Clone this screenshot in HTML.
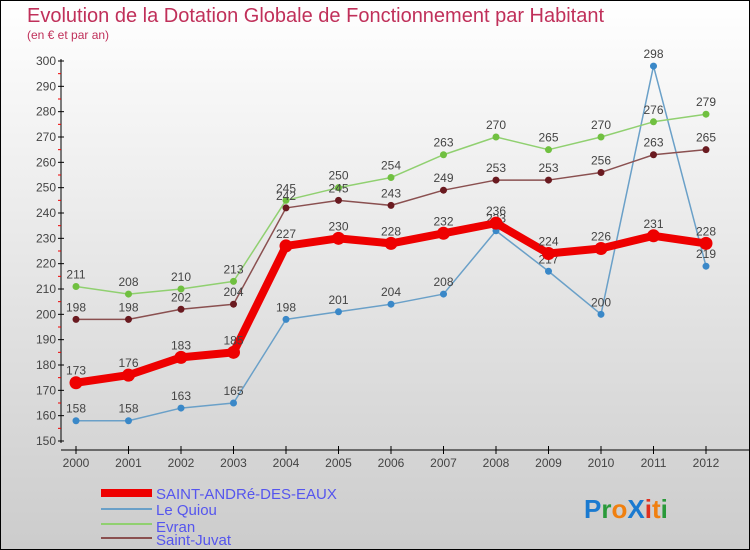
<!DOCTYPE html>
<html><head><meta charset="utf-8"><style>
body{margin:0}
#c{width:748px;height:548px;border:1px solid #000;background:linear-gradient(#ffffff,#cccccc);position:relative;font-family:"Liberation Sans",sans-serif;overflow:hidden}
</style></head><body>
<div id="c">
<svg id="s" width="748" height="548" style="position:absolute;left:0;top:0">
<text x="26" y="21" font-size="20" fill="#c0305a">Evolution de la Dotation Globale de Fonctionnement par Habitant</text>
<text x="26" y="38" font-size="12" fill="#c0305a">(en € et par an)</text>
<line x1="60" y1="58" x2="60" y2="442" stroke="#000"/>
<line x1="60" y1="449" x2="748" y2="449" stroke="#000"/>
<g id="axes"></g><g id="series"></g>
<g>
<rect x="100" y="488" width="51" height="8" fill="#e00"/>
<text x="155" y="498" font-size="15" fill="#5555ee">SAINT-ANDRé-DES-EAUX</text>
<line x1="100" y1="508" x2="151" y2="508" stroke="#6aa0c8" stroke-width="2"/>
<text x="155" y="514" font-size="15" fill="#5555ee">Le Quiou</text>
<line x1="100" y1="523" x2="151" y2="523" stroke="#90d070" stroke-width="2"/>
<text x="155" y="531" font-size="15" fill="#5555ee">Evran</text>
<line x1="100" y1="537" x2="151" y2="537" stroke="#8a5050" stroke-width="2"/>
<text x="155" y="544" font-size="15" fill="#5555ee">Saint-Juvat</text>
</g>
<g font-size="26" font-weight="bold">
<text x="583" y="517"><tspan fill="#1a7ad0">P</tspan><tspan fill="#2a9a3a">r</tspan><tspan fill="#f08010">o</tspan><tspan fill="#1a7ad0">X</tspan><tspan fill="#e03020">i</tspan><tspan fill="#f08010">t</tspan><tspan fill="#2a9a3a">i</tspan></text>
</g>
</svg>
</div>
<script>
const years=["2000","2001","2002","2003","2004","2005","2006","2007","2008","2009","2010","2011","2012"];
const yTicks=[150,160,170,180,190,200,210,220,230,240,250,260,270,280,290,300];
const saintAndre=[173,176,183,185,227,230,228,232,236,224,226,231,228];
const leQuiou=[158,158,163,165,198,201,204,208,233,217,200,298,219];
const evran=[211,208,210,213,245,250,254,263,270,265,270,276,279];
const saintJuvat=[198,198,202,204,242,245,243,249,253,253,256,263,265];
const NS="http://www.w3.org/2000/svg";
function X(i){return 75+i*52.5;}
function Y(v){return 440-(v-150)*380/150;}
function mk(t,a,p){const e=document.createElementNS(NS,t);for(const k in a)e.setAttribute(k,a[k]);p.appendChild(e);return e;}
const ax=document.getElementById('axes');
yTicks.forEach(v=>{
 const l=mk('line',{x1:57,x2:63,y1:Y(v),y2:Y(v),stroke:'#000'},ax);
 
 
 const t=mk('text',{x:55,y:Y(v)+4,'font-size':12,fill:'#444','text-anchor':'end'},ax);
 
 
 t.textContent=v;
 if(v<300){const m=mk('line',{x1:57,x2:60,y1:Y(v+5),y2:Y(v+5),stroke:'#e00'},ax);
 
 }
});
years.forEach((y,i)=>{
 const l=mk('line',{x1:X(i),x2:X(i),y1:445,y2:453,stroke:'#000'},ax);
 
 
 const t=mk('text',{x:X(i),y:466,'font-size':12,fill:'#444','text-anchor':'middle'},ax);
 
 
 t.textContent=y;
});
const sg=document.getElementById('series');
function draw(data,name,color,dot,w,r){
 const g=mk('g',{},sg);
 
 
 const p=mk('polyline',{points:data.map((v,i)=>X(i)+','+Y(v)).join(' '),fill:'none',stroke:color,'stroke-width':w,'stroke-linejoin':'round'},g);
 
 
 data.forEach((v,i)=>{
  const c=mk('circle',{cx:X(i),cy:Y(v),r:r,fill:dot},g);
  
  
  const t=mk('text',{x:X(i),y:Y(v)-8,'font-size':12,fill:'#444','text-anchor':'middle'},g);
  
  
  t.textContent=v;
 });
}
draw(leQuiou,'le-quiou','#6aa0c8','#3a88c8',1.5,3.5);
draw(evran,'evran','#90d070','#70c040',1.5,3.5);
draw(saintJuvat,'saint-juvat','#8a5050','#6a1a20',1.5,3.5);
draw(saintAndre,'saint-andre','#ee0000','#ee0000',8,6.5);
</script>
</body></html>
